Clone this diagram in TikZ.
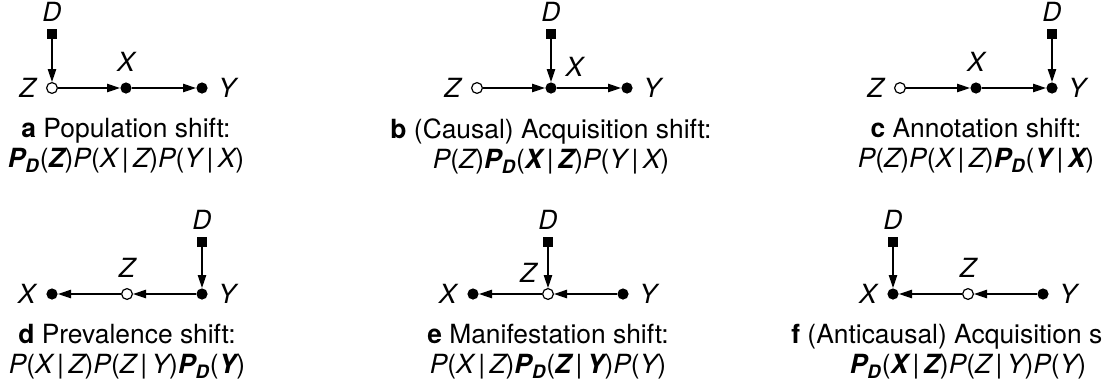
\documentclass[tikz,border=0pt]{standalone}
\usepackage{fontspec}
\setmainfont{TeX Gyre Heros}
\usetikzlibrary{arrows.meta,positioning}
\newcommand{\Pdom}{\textbf{P\textsubscript{D}}}
\newcommand{\gvn}{\,{\upshape|}\,}
\newcommand{\pr}[2]{#1{\upshape(}#2{\upshape)}}

\begin{document}
\begin{tikzpicture}[
  x=0.5pt, y=-0.5pt,
  font=\fontsize{13.2}{15}\selectfont,
  fnode/.style={circle, fill=black, inner sep=0pt, minimum size=5.6pt},
  onode/.style={circle, draw=black, fill=white, line width=0.6pt, inner sep=0pt, minimum size=5.4pt},
  dnode/.style={rectangle, fill=black, inner sep=0pt, minimum size=4.8pt},
  var/.style={font=\fontsize{13.2}{15}\selectfont\itshape, inner sep=1pt},
  dlab/.style={var, above=2.3pt of #1},
  captext/.style={align=center, inner sep=0pt},
  arr/.style={-{Triangle[length=6.5pt, width=4.2pt]}, line width=0.6pt},
  node distance=4pt
]
\useasboundingbox (0,0) rectangle (1102,387);

% a: population shift
\node[onode] (za) at (52,88) {};
\node[fnode] (xa) at (126,88) {};
\node[fnode] (ya) at (202,88) {};
\node[dnode] (da) at (52,34) {};
\node[var, left=of za] {Z};
\node[var, above=of xa] {X};
\node[var, right=of ya] {Y};
\node[dlab=da] {D};
\node[captext, below=15pt of xa.center] (capa) {\textbf{a} Population shift:\\ \itshape\pr{\Pdom}{\textbf{Z}}\pr{P}{X\gvn Z}\pr{P}{Y\gvn X}};
\draw[arr] (da) -- (za);
\draw[arr] (za) -- (xa);
\draw[arr] (xa) -- (ya);

% b: causal acquisition shift
\node[onode] (zb) at (477,88) {};
\node[fnode] (xb) at (551,88) {};
\node[fnode] (yb) at (627,88) {};
\node[dnode] (db) at (551,34) {};
\node[var, left=of zb] {Z};
\node[var, above right=2.5pt and 4pt of xb] {X};
\node[var, right=of yb] {Y};
\node[dlab=db] {D};
\node[captext, below=15pt of xb.center] (capb) {\textbf{b} (Causal) Acquisition shift:\\ \itshape\pr{P}{Z}\pr{\Pdom}{\textbf{X}\gvn\textbf{Z}}\pr{P}{Y\gvn X}};
\draw[arr] (db) -- (xb);
\draw[arr] (zb) -- (xb);
\draw[arr] (xb) -- (yb);

% c: annotation shift
\node[onode] (zc) at (900,88) {};
\node[fnode] (xc) at (976,88) {};
\node[fnode] (yc) at (1052,88) {};
\node[dnode] (dc) at (1052,34) {};
\node[var, left=of zc] {Z};
\node[var, above=of xc] {X};
\node[var, right=of yc] {Y};
\node[dlab=dc] {D};
\node[captext, below=15pt of xc.center] (capc) {\textbf{c} Annotation shift:\\ \itshape\pr{P}{Z}\pr{P}{X\gvn Z}\pr{\Pdom}{\textbf{Y}\gvn\textbf{X}}};
\draw[arr] (dc) -- (yc);
\draw[arr] (zc) -- (xc);
\draw[arr] (xc) -- (yc);

% d: prevalence shift
\node[fnode] (xd) at (52,294) {};
\node[onode] (zd) at (127,294) {};
\node[fnode] (yd) at (202,294) {};
\node[dnode] (dd) at (202,242) {};
\node[var, left=of xd] {X};
\node[var, above=of zd] {Z};
\node[var, right=of yd] {Y};
\node[dlab=dd] {D};
\node[captext, below=15pt of zd.center] (capd) {\textbf{d} Prevalence shift:\\ \itshape\pr{P}{X\gvn Z}\pr{P}{Z\gvn Y}\pr{\Pdom}{\textbf{Y}}};
\draw[arr] (dd) -- (yd);
\draw[arr] (yd) -- (zd);
\draw[arr] (zd) -- (xd);

% e: manifestation shift
\node[fnode] (xe) at (473,294) {};
\node[onode] (ze) at (548,294) {};
\node[fnode] (ye) at (623,294) {};
\node[dnode] (de) at (548,242) {};
\node[var, left=of xe] {X};
\node[var, above left=2.5pt and 2.5pt of ze] {Z};
\node[var, right=of ye] {Y};
\node[dlab=de] {D};
\node[captext, below=15pt of ze.center] (cape) {\textbf{e} Manifestation shift:\\ \itshape\pr{P}{X\gvn Z}\pr{\Pdom}{\textbf{Z}\gvn\textbf{Y}}\pr{P}{Y}};
\draw[arr] (de) -- (ze);
\draw[arr] (ye) -- (ze);
\draw[arr] (ze) -- (xe);

% f: anticausal acquisition shift
\node[fnode] (xf) at (893,294) {};
\node[onode] (zf) at (968,294) {};
\node[fnode] (yf) at (1043,294) {};
\node[dnode] (df) at (893,242) {};
\node[var, left=of xf] {X};
\node[var, above=of zf] {Z};
\node[var, right=of yf] {Y};
\node[dlab=df] {D};
\node[captext, below=15pt of zf.center] (capf) {\textbf{f} (Anticausal) Acquisition shift:\\ \itshape\pr{\Pdom}{\textbf{X}\gvn\textbf{Z}}\pr{P}{Z\gvn Y}\pr{P}{Y}};
\draw[arr] (df) -- (xf);
\draw[arr] (yf) -- (zf);
\draw[arr] (zf) -- (xf);
\end{tikzpicture}
\end{document}
